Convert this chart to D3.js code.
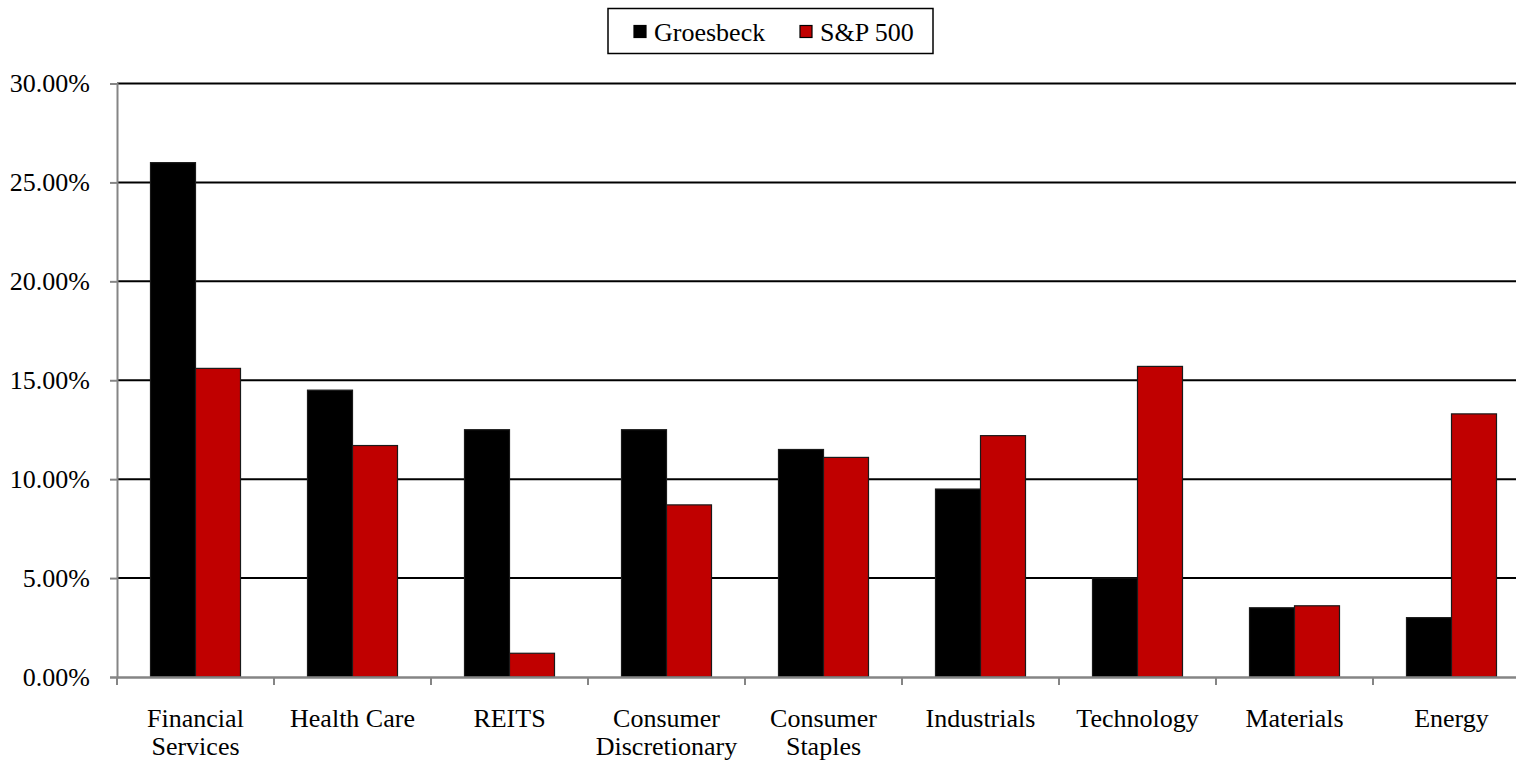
<!DOCTYPE html>
<html>
<head>
<meta charset="utf-8">
<script src="https://d3js.org/d3.v7.min.js"></script>
<style>
  body { margin: 0; background: #fff; }
  text { font-family: "Liberation Serif", "Times New Roman", serif; fill: #000; }
</style>
</head>
<body>
<div id="chart"></div>
<script>
// Sector weights (%)
var categories = [["Financial", "Services"], ["Health Care"], ["REITS"], ["Consumer", "Discretionary"],
                  ["Consumer", "Staples"], ["Industrials"], ["Technology"], ["Materials"], ["Energy"]];
var seriesNames = ["Groesbeck", "S&P 500"];
var groesbeck = [26.0, 14.5, 12.5, 12.5, 11.5, 9.5, 5.0, 3.5, 3.0];
var sp500 = [15.6, 11.7, 1.2, 8.7, 11.1, 12.2, 15.7, 3.6, 13.3];
var yTicks = [0, 5, 10, 15, 20, 25, 30];
var colors = ["#000000", "#c00000"];

var W = 1516, H = 763;
var plotLeft = 117, plotRight = 1530, plotTop = 83.5, plotBottom = 677;
var fs = "26px";

var svg = d3.select("#chart").append("svg")
  .attr("width", W).attr("height", H);

var keys = categories.map(function(c) { return c.join(" "); });

var x = d3.scaleBand().domain(keys).range([plotLeft, plotRight]).paddingInner(0).paddingOuter(0);
var xs = d3.scaleBand().domain(seriesNames).range([0, 90]);
var y = d3.scaleLinear().domain([0, 30]).range([plotBottom, plotTop]);

// gridlines
svg.append("g").selectAll("line")
  .data(yTicks.slice(1))
  .enter().append("line")
  .attr("x1", plotLeft).attr("x2", W)
  .attr("y1", function(d) { return y(d); })
  .attr("y2", function(d) { return y(d); })
  .attr("stroke", "#000").attr("stroke-width", 2);

// bars
var rows = keys.map(function(k, i) { return { key: k, vals: [groesbeck[i], sp500[i]] }; });
var groups = svg.append("g").selectAll("g")
  .data(rows).enter().append("g")
  .attr("transform", function(d) { return "translate(" + (x(d.key) + (x.bandwidth() - 90) / 2) + ",0)"; });

groups.selectAll("rect")
  .data(function(d) { return d.vals.map(function(v, j) { return { s: seriesNames[j], v: v, j: j }; }); })
  .enter().append("rect")
  .attr("x", function(d) { return xs(d.s); })
  .attr("width", xs.bandwidth())
  .attr("y", function(d) { return y(d.v); })
  .attr("height", function(d) { return plotBottom - y(d.v); })
  .attr("fill", function(d) { return colors[d.j]; })
  .attr("stroke", "#1a1a1a").attr("stroke-width", 1.2);

// y axis
var yAxis = svg.append("g")
  .attr("transform", "translate(" + plotLeft + ",0)")
  .call(d3.axisLeft(y).tickValues(yTicks).tickSize(7).tickPadding(20)
    .tickFormat(function(d) { return d.toFixed(2) + "%"; }));
yAxis.select(".domain").attr("stroke", "#858585").attr("stroke-width", 2);
yAxis.selectAll(".tick line").attr("stroke", "#858585").attr("stroke-width", 2);
yAxis.selectAll("text").style("font-size", fs).style("font-family", "Liberation Serif");

// x axis
var xAxis = svg.append("g")
  .attr("transform", "translate(0," + plotBottom + ")")
  .call(d3.axisBottom(x).tickSize(0).tickFormat(""));
xAxis.select(".domain").attr("stroke", "#858585").attr("stroke-width", 2.5);
xAxis.selectAll(".tick line").remove();

// category ticks at boundaries
svg.append("g").selectAll("line")
  .data(keys).enter().append("line")
  .attr("x1", function(d) { return x(d); })
  .attr("x2", function(d) { return x(d); })
  .attr("y1", plotBottom).attr("y2", plotBottom + 8)
  .attr("stroke", "#858585").attr("stroke-width", 2);

// category labels
var lbl = svg.append("g").selectAll("text")
  .data(categories).enter().append("text")
  .attr("text-anchor", "middle")
  .attr("x", function(d, i) { return x(keys[i]) + x.bandwidth() / 2; })
  .attr("y", 727)
  .style("font-size", fs);
lbl.selectAll("tspan")
  .data(function(d) { return d; })
  .enter().append("tspan")
  .attr("x", function() { return d3.select(this.parentNode).attr("x"); })
  .attr("dy", function(d, i) { return i === 0 ? 0 : 28; })
  .text(function(d) { return d; });

// legend
var legend = svg.append("g");
legend.append("rect")
  .attr("x", 608).attr("y", 8.5).attr("width", 325).attr("height", 45)
  .attr("fill", "#fff").attr("stroke", "#000").attr("stroke-width", 1.5);
var legX = [634, 800];
seriesNames.forEach(function(s, i) {
  legend.append("rect")
    .attr("x", legX[i]).attr("y", 25.5).attr("width", 12).attr("height", 12)
    .attr("fill", colors[i]).attr("stroke", "#000").attr("stroke-width", 1.2);
  legend.append("text")
    .attr("x", legX[i] + 20).attr("y", 40.5)
    .style("font-size", fs)
    .text(s);
});
</script>
</body>
</html>
